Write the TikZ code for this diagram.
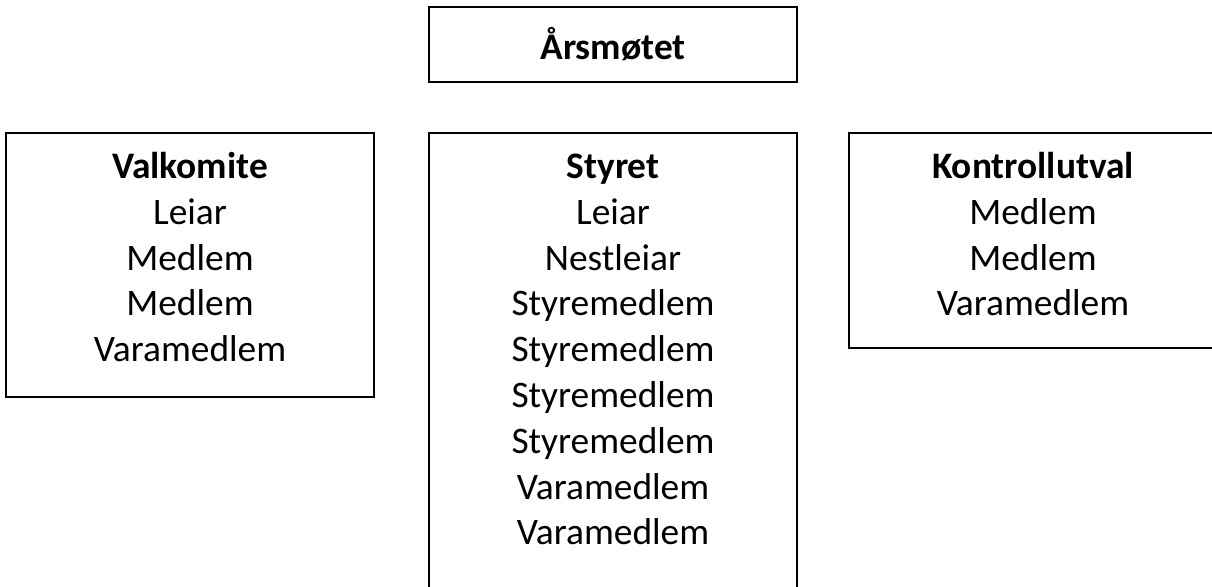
\documentclass[tikz,border=0pt]{standalone}
\usepackage{fontspec}
\setmainfont{Carlito}
\usepackage{tikz}
\usetikzlibrary{positioning}
\newcommand{\orgfont}{\fontsize{18.7}{22.9}\selectfont}
\tikzstyle{topbox} = [rectangle, minimum width=184pt, minimum height=37.5pt, inner sep=0pt, draw=black, line width=1pt, font=\orgfont\bfseries]
\tikzstyle{orgbox} = [rectangle, minimum width=184pt, inner sep=0pt, draw=black, line width=1pt]
\tikzstyle{listtext} = [text width=180pt, align=center, inner sep=0pt, font=\orgfont]
\newcommand{\firstline}{\rule{0pt}{23pt}}

\begin{document}
\begin{tikzpicture}[node distance=25pt]
\useasboundingbox (0pt,0pt) rectangle (606pt,-293pt);
\clip (0pt,0pt) rectangle (606pt,-293pt);
\node (aars) [topbox] at (306.5pt,-22.25pt) {Årsmøtet};
\node (styret) [orgbox, minimum height=234.5pt, below=24.5pt of aars] {};
\node (valg) [orgbox, minimum height=132pt, left=26.5pt of styret.north west, anchor=north east] {};
\node (kontroll) [orgbox, minimum height=107.5pt, right=25pt of styret.north east, anchor=north west] {};
\node (valgtxt) [listtext, below=0pt of valg.north] {\firstline\textbf{Valkomite}\\Leiar\\Medlem\\Medlem\\Varamedlem};
\node (styrettxt) [listtext, below=0pt of styret.north] {\firstline\textbf{Styret}\\Leiar\\Nestleiar\\Styremedlem\\Styremedlem\\Styremedlem\\Styremedlem\\Varamedlem\\Varamedlem};
\node (kontrolltxt) [listtext, below=0pt of kontroll.north] {\firstline\textbf{Kontrollutval}\\Medlem\\Medlem\\Varamedlem};
\end{tikzpicture}
\end{document}
